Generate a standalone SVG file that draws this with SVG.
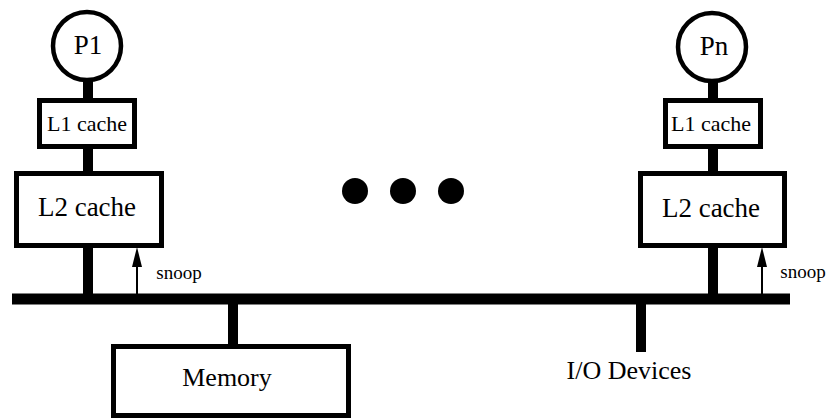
<svg xmlns="http://www.w3.org/2000/svg" width="830" height="419" viewBox="0 0 830 419">
<defs>
<style>
.box{fill:#fff;stroke:#000;stroke-width:5}
.proc{fill:#fff;stroke:#000;stroke-width:4.5}
text{font-family:'Liberation Serif','DejaVu Serif',serif;fill:#000;text-anchor:middle}
.thick{stroke:#000;stroke-width:10;fill:none}
.thin{stroke:#000;stroke-width:2;fill:none}
</style>
</defs>
<rect width="830" height="419" fill="#fff"/>
<g id="connectors">
<line class="thick" x1="88" y1="78" x2="88" y2="100"/>
<line class="thick" x1="88" y1="146" x2="88" y2="173"/>
<line class="thick" x1="88" y1="246" x2="88" y2="299"/>
<line class="thick" x1="713" y1="79" x2="713" y2="100"/>
<line class="thick" x1="713" y1="146" x2="713" y2="173"/>
<line class="thick" x1="713" y1="246" x2="713" y2="299"/>
<line class="thick" x1="233" y1="299" x2="233" y2="346"/>
<line class="thick" x1="641" y1="299" x2="641" y2="352"/>
<rect id="bus" x="12" y="293.5" width="778" height="11" fill="#000"/>
<line class="thin" x1="137" y1="294" x2="137" y2="266"/>
<path d="M132,267 L137,247 L142,267 Z" fill="#000"/>
<line class="thin" x1="762" y1="294" x2="762" y2="266"/>
<path d="M757,267 L762,247 L767,267 Z" fill="#000"/>
</g>
<g id="p1">
<circle class="proc" cx="87" cy="46" r="34"/>
<text x="88" y="54" font-size="27" font-family="Liberation Serif, DejaVu Serif, serif">P1</text>
</g>
<g id="l1-left">
<rect class="box" x="39.5" y="100.5" width="95" height="46"/>
<text x="87" y="131" font-size="22" font-family="Liberation Serif, DejaVu Serif, serif">L1 cache</text>
</g>
<g id="l2-left">
<rect class="box" x="16.5" y="173.5" width="145" height="72"/>
<text x="87" y="216" font-size="27" font-family="Liberation Serif, DejaVu Serif, serif">L2 cache</text>
</g>
<g id="snoop-left">
<text x="179" y="279" font-size="19" font-family="Liberation Serif, DejaVu Serif, serif">snoop</text>
</g>
<g id="pn">
<circle class="proc" cx="712" cy="47" r="34"/>
<text x="714" y="55" font-size="27" font-family="Liberation Serif, DejaVu Serif, serif">Pn</text>
</g>
<g id="l1-right">
<rect class="box" x="665.5" y="100.5" width="95" height="46"/>
<text x="711" y="131" font-size="22" font-family="Liberation Serif, DejaVu Serif, serif">L1 cache</text>
</g>
<g id="l2-right">
<rect class="box" x="640.5" y="173.5" width="144" height="72"/>
<text x="711" y="217" font-size="27" font-family="Liberation Serif, DejaVu Serif, serif">L2 cache</text>
</g>
<g id="snoop-right">
<text x="803" y="278" font-size="19" font-family="Liberation Serif, DejaVu Serif, serif">snoop</text>
</g>
<g id="ellipsis">
<circle cx="355" cy="191" r="13" fill="#000"/>
<circle cx="403" cy="191" r="13" fill="#000"/>
<circle cx="451" cy="191" r="13" fill="#000"/>
</g>
<g id="memory">
<rect class="box" x="113.5" y="346.5" width="235" height="69"/>
<text x="227" y="386" font-size="26" font-family="Liberation Serif, DejaVu Serif, serif">Memory</text>
</g>
<g id="io">
<text x="629" y="379" font-size="26" font-family="Liberation Serif, DejaVu Serif, serif">I/O Devices</text>
</g>
</svg>
